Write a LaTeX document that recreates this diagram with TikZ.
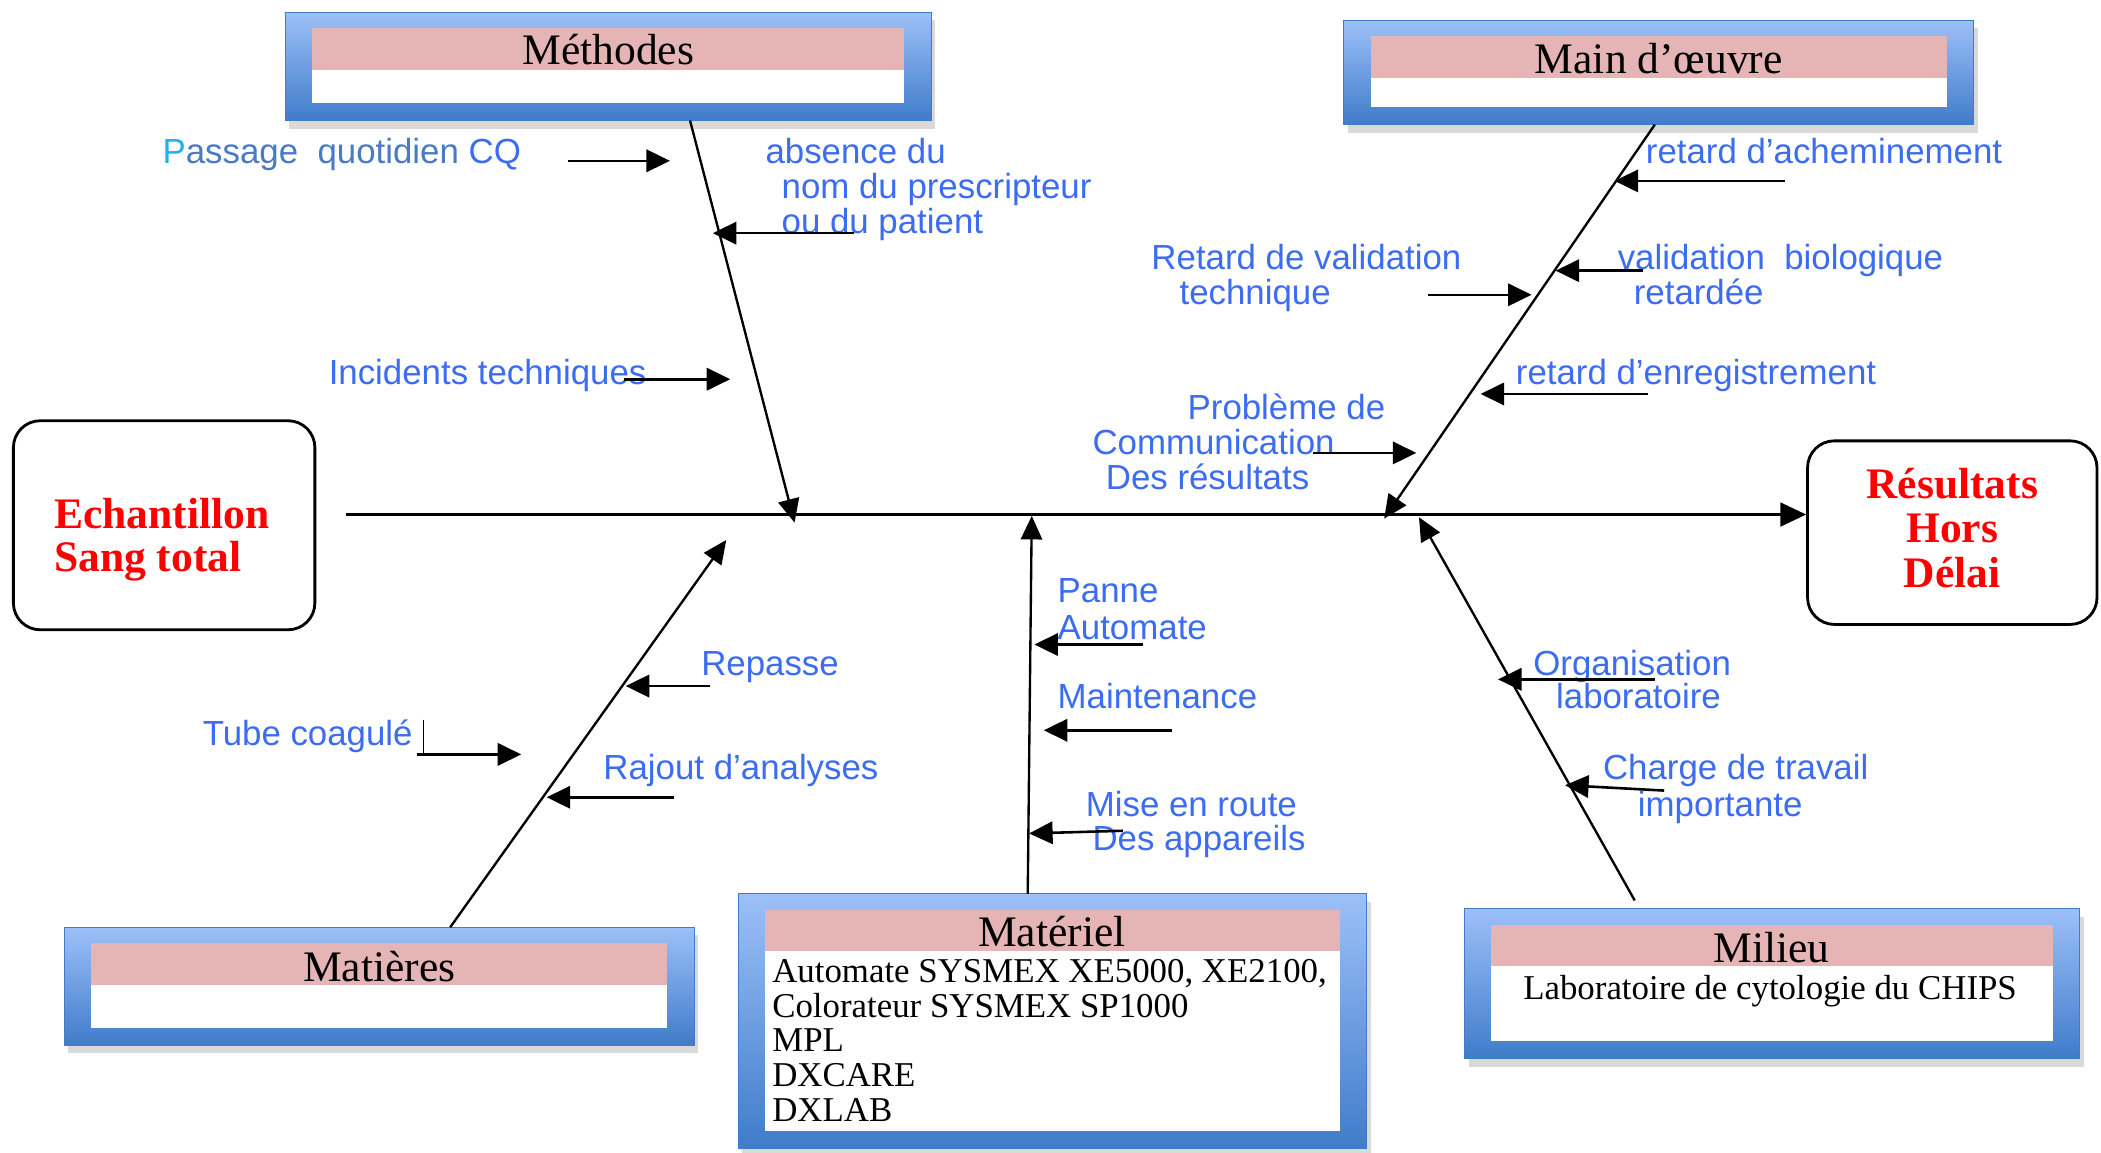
\documentclass[tikz,border=0pt]{standalone}
\usepackage{fontspec}
\setmainfont{Liberation Serif}
\newfontfamily\labelfont{Liberation Sans}
\usepackage{tikz}
\usetikzlibrary{arrows.meta, calc, positioning}

\definecolor{causeblue}{RGB}{59,108,242}
\definecolor{steelcause}{RGB}{74,122,196}
\definecolor{cyancause}{RGB}{30,176,232}
\definecolor{bandpink}{RGB}{229,181,181}
\definecolor{boxtop}{RGB}{156,192,248}
\definecolor{boxbottom}{RGB}{64,124,202}

\begin{document}
\begin{tikzpicture}[x=0.02cm, y=-0.02cm,
    cause/.style={font=\labelfont\fontsize{14.8}{15}\selectfont, text=causeblue, anchor=base west, inner sep=0pt},
    title/.style={font=\fontsize{18.5}{20}\selectfont, inner sep=0pt},
    boxtext/.style={font=\fontsize{14.8}{15}\selectfont, inner sep=0pt, anchor=base west},
    effect/.style={draw, line width=1.2pt, rounded corners=0.4cm, text=red,
        font=\bfseries\fontsize{18.5}{18.8}\selectfont},
    bone/.style={line width=1pt, -{Triangle[length=10pt,width=9pt]}},
    twig/.style={line width=1.1pt, -{Triangle[length=10pt,width=9.5pt]}}]

    \useasboundingbox (0,0) rectangle (1568,860);

    \foreach \a/\b/\c/\d in {213/9/695/90, 1003/15/1473/93, 48/692/518/780, 551/667/1020/857, 1093/678/1552/790} {
        \fill[gray!30] (\a+3,\b+6) rectangle (\c+3,\d+6);
        \shade[top color=boxtop, bottom color=boxbottom, draw=boxbottom] (\a,\b) rectangle (\c,\d);
        \fill[bandpink] (\a+20,\b+12) rectangle (\c-20,\b+43);
        \fill[white] (\a+20,\b+43) rectangle (\c-20,\d-13);
    }

    \node[title] (methodes) at (454,37) {Méthodes};
    \node[title] (mainoeuvre) at (1238,44) {Main d’œuvre};
    \node[title] (matieres) at (283,721) {Matières};
    \node[title] (materiel) at (785,695) {Matériel};
    \node[title] (milieu) at (1322,707) {Milieu};

    \node[boxtext] (mat1) at (576,733) {Automate SYSMEX XE5000, XE2100,};
    \node[boxtext] (mat2) at (576,759) {Colorateur SYSMEX SP1000};
    \node[boxtext] (mat3) at (576,785) {MPL};
    \node[boxtext] (mat4) at (576,811) {DXCARE};
    \node[boxtext] (mat5) at (576,837) {DXLAB};
    \node[boxtext, anchor=base] (lieu) at (1321,746) {Laboratoire de cytologie du CHIPS};

    \draw[line width=1.2pt, rounded corners=0.4cm] (10,314) rectangle (235,470);
    \node[text=red, font=\bfseries\fontsize{18.5}{18.2}\selectfont, align=left, anchor=west, inner sep=0pt]
        (echantillon) at (40,403) {Echantillon\\Sang total};
    \draw[line width=1.2pt, rounded corners=0.4cm] (1349,329) rectangle (1565,466);
    \node[text=red, font=\bfseries\fontsize{18.5}{18.8}\selectfont, align=center, inner sep=0pt]
        (resultats) at (1457,394) {Résultats\\Hors\\Délai};

    \coordinate (start) at (258,384);
    \coordinate (finish) at (1348,384);
    \draw[line width=1.4pt, -{Triangle[length=11pt,width=10pt]}] (start) -- (finish);

    \coordinate (m1) at (515,90);   \coordinate (m2) at (593,390);
    \coordinate (o1) at (1235,93);  \coordinate (o2) at (1033,387);
    \coordinate (t1) at (336,692);  \coordinate (t2) at (542,403);
    \coordinate (r1) at (767,667);  \coordinate (r2) at (770,385);
    \coordinate (l1) at (1220,672); \coordinate (l2) at (1059,386);
    \draw[bone] (m1) -- (m2);
    \draw[bone] (o1) -- (o2);
    \draw[bone] (t1) -- (t2);
    \draw[bone] (r1) -- (r2);
    \draw[bone] (l1) -- (l2);

    \node[cause] (passage) at (121,122) {\textcolor{cyancause}{P}\textcolor{steelcause}{assage\ \ quotidien} CQ};
    \node[cause] (absence1) at (571,122) {absence du};
    \node[cause] (absence2) at (583,148) {nom du prescripteur};
    \node[cause] (absence3) at (583,174) {ou du patient};
    \node[cause] (incidents) at (245,287) {Incidents techniques};

    \node[cause] (achem) at (1228,122) {retard d’acheminement};
    \node[cause] (valtech1) at (859,201) {Retard de validation};
    \node[cause] (valtech2) at (880,227) {technique};
    \node[cause] (valbio1) at (1207,201) {validation\ \ biologique};
    \node[cause] (valbio2) at (1219,227) {retardée};
    \node[cause] (enreg) at (1131,287) {retard d’enregistrement};
    \node[cause] (comm1) at (886,313) {Problème de};
    \node[cause] (comm2) at (815,339) {Communication};
    \node[cause] (comm3) at (825,365) {Des résultats};

    \node[cause] (repasse) at (523,504) {Repasse};
    \node[cause] (tube) at (151,556) {Tube coagulé};
    \node[cause] (rajout) at (450,582) {Rajout d’analyses};

    \node[cause] (panne1) at (789,450) {Panne};
    \node[cause] (panne2) at (789,477) {Automate};
    \node[cause] (maint) at (789,529) {Maintenance};
    \node[cause] (mise1) at (810,609) {Mise en route};
    \node[cause] (mise2) at (815,635) {Des appareils};

    \node[cause] (orga1) at (1144,504) {Organisation};
    \node[cause] (orga2) at (1161,529) {laboratoire};
    \node[cause] (charge1) at (1196,582) {Charge de travail};
    \node[cause] (charge2) at (1222,609) {importante};

    \draw[line width=0.6pt] (316,537) -- (316,562);

    \draw[twig] (424,120) -- (500,120);
    \draw[twig] (637,174) -- (532,174);
    \draw[twig] (466,283) -- (545,283);
    \draw[twig] (1332,135) -- (1205,135);
    \draw[twig] (1066,220) -- (1143,220);
    \draw[twig] (1226,202) -- (1161,202);
    \draw[twig] (1230,294) -- (1105,294);
    \draw[twig] (980,338) -- (1057,338);
    \draw[twig] (530,512) -- (467,512);
    \draw[twig] (311,563) -- (389,563);
    \draw[twig] (503,595) -- (408,595);
    \draw[twig] (853,481) -- (772,481);
    \draw[twig] (875,545) -- (779,545);
    \draw[twig] (838,620) -- (768,622);
    \draw[twig] (1235,507) -- (1118,507);
    \draw[twig] (1242,590) -- (1168,586);
\end{tikzpicture}
\end{document}
